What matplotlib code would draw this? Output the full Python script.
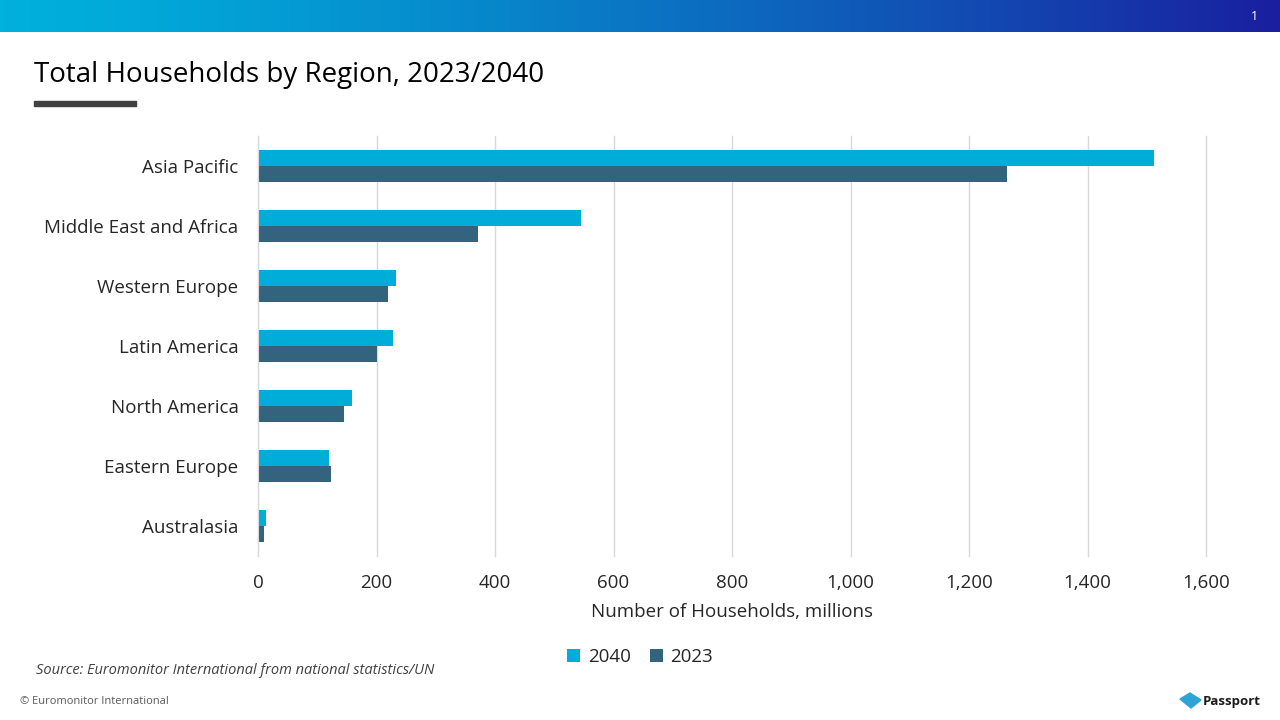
import matplotlib.pyplot as plt
import numpy as np
from matplotlib.patches import Rectangle, Polygon

regions = ["Asia Pacific", "Middle East and Africa", "Western Europe", "Latin America",
           "North America", "Eastern Europe", "Australasia"]
v2040 = [1512, 545, 233, 228, 159, 120, 14]
v2023 = [1264, 371, 219, 201, 145, 123, 10]
ticks = [0, 200, 400, 600, 800, 1000, 1200, 1400, 1600]

c2040 = "#00ADD8"
c2023 = "#33637D"

plt.rcParams['font.family'] = ['Open Sans', 'DejaVu Sans']

fig = plt.figure(figsize=(12.8, 7.2), dpi=100)

# header gradient band
band = fig.add_axes([0, 1 - 32 / 720, 1, 32 / 720])
grad = np.linspace(0, 1, 256).reshape(1, -1) ** 1.3
c0 = np.array([0x00, 0xB0, 0xDC]) / 255
c1 = np.array([0x1A, 0x1F, 0xA0]) / 255
img = c0[None, None, :] * (1 - grad[..., None]) + c1[None, None, :] * grad[..., None]
band.imshow(img, aspect='auto', extent=[0, 1, 0, 1])
band.set_axis_off()
fig.text(1254 / 1280, 1 - 16 / 720, "1", color="white", fontsize=9, ha="center", va="center")

# title
fig.text(34 / 1280, 1 - 75 / 720, "Total Households by Region, 2023/2040", fontsize=20,
         ha="left", va="center", color="black")
fig.add_artist(Rectangle((34 / 1280, 1 - 106 / 720), 102 / 1280, 5 / 720,
                         transform=fig.transFigure, color="#404040"))

ax = fig.add_axes([258 / 1280, 1 - 556 / 720, (1206 - 258) / 1280, 420 / 720])
y = np.arange(len(regions))
h = 0.267
ax.barh(y - h / 2, v2040, height=h, color=c2040, label="2040")
ax.barh(y + h / 2, v2023, height=h, color=c2023, label="2023")
ax.set_ylim(len(regions) - 0.5, -0.5)
ax.set_xlim(0, 1600)
ax.set_xticks(ticks)
ax.set_xticklabels([f"{t:,}" for t in ticks], fontsize=13.5, color="#262626")
ax.set_yticks(y)
ax.set_yticklabels(regions, fontsize=13.5, color="#262626")
ax.tick_params(axis='y', length=0, pad=14)
ax.tick_params(axis='x', length=0, pad=13)
ax.grid(axis='x', color="#D9D9D9", linewidth=1)
for gl in ax.get_xgridlines():
    gl.set_clip_on(False)
ax.set_axisbelow(True)
for s in ["top", "right", "bottom"]:
    ax.spines[s].set_visible(False)
ax.spines["left"].set_color("#D9D9D9")
ax.set_xlabel("Number of Households, millions", fontsize=13.5, color="#262626", labelpad=8)

fig.legend(loc="center", bbox_to_anchor=(640 / 1280, 1 - 657 / 720), ncol=2, frameon=False,
           fontsize=13.5, handlelength=0.7, handleheight=0.7, columnspacing=1.0, handletextpad=0.4,
           labelcolor="#262626")

fig.text(36 / 1280, 1 - 671 / 720, "Source: Euromonitor International from national statistics/UN",
         fontsize=10.5, style="italic", color="#404040", ha="left", va="center")
fig.text(20 / 1280, 1 - 702 / 720, "© Euromonitor International", fontsize=8,
         color="#595959", ha="left", va="center")

# Passport logo
fig.add_artist(Polygon([[1180 / 1280, 1 - 699 / 720], [1190 / 1280, 1 - 693 / 720],
                        [1201 / 1280, 1 - 700 / 720], [1191 / 1280, 1 - 708 / 720]],
                       transform=fig.transFigure, color="#2EA3D6"))
fig.text(1203 / 1280, 1 - 701 / 720, "Passport", fontsize=9.5, fontweight="bold",
         color="#1A1A1A", ha="left", va="center")

fig.savefig("out.png", dpi=100)
